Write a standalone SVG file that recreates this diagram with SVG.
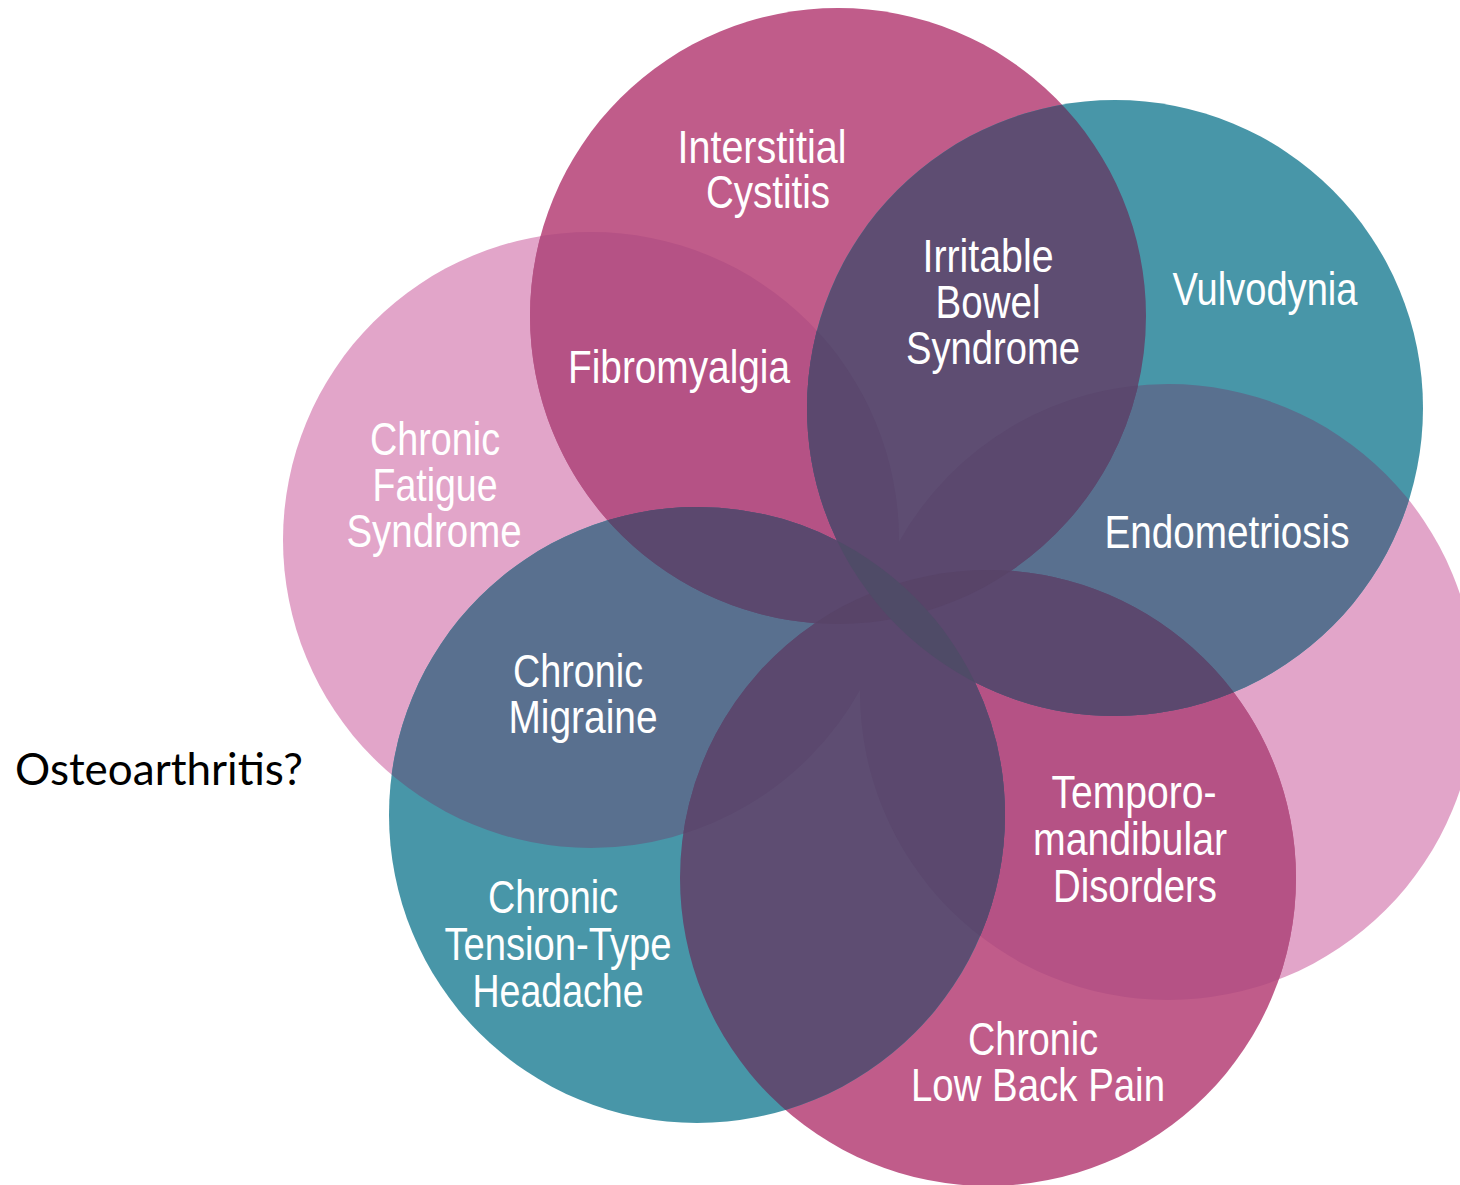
<svg xmlns="http://www.w3.org/2000/svg" width="1460" height="1185" viewBox="0 0 1460 1185">
<defs>
<style>
.lbl{font-family:"Liberation Sans",Arial,sans-serif;font-size:46px;fill:#ffffff;text-anchor:middle}
.q{font-family:Lato,"Open Sans",sans-serif;font-size:44px;fill:#000000}
.mag{fill:#c05c8a}
.teal{fill:#4896a8}
.pink{fill:#e2a5c9}
</style>
<clipPath id="cA"><circle cx="838" cy="316" r="308"/></clipPath>
<clipPath id="cB"><circle cx="1115" cy="408" r="308"/></clipPath>
<clipPath id="cD"><circle cx="697" cy="815" r="308"/></clipPath>
<clipPath id="cE"><circle cx="988" cy="878" r="308"/></clipPath>
<clipPath id="uMag"><circle cx="838" cy="316" r="308"/><circle cx="988" cy="878" r="308"/></clipPath>
<clipPath id="uTeal"><circle cx="1115" cy="408" r="308"/><circle cx="697" cy="815" r="308"/></clipPath>
<clipPath id="uPink"><circle cx="591" cy="540" r="308"/><circle cx="1168" cy="692" r="308"/></clipPath>
</defs>
<rect x="0" y="0" width="1460" height="1185" fill="#ffffff"/>
<g id="circles">
<circle id="c-fatigue" class="pink" cx="591" cy="540" r="308"/>
<circle id="c-endo" class="pink" cx="1168" cy="692" r="308"/>
<circle id="c-cystitis" class="mag" cx="838" cy="316" r="308"/>
<circle id="c-backpain" class="mag" cx="988" cy="878" r="308"/>
<circle id="c-vulvodynia" class="teal" cx="1115" cy="408" r="308"/>
<circle id="c-headache" class="teal" cx="697" cy="815" r="308"/>
</g>
<g id="overlaps">
<g clip-path="url(#uPink)"><g clip-path="url(#uMag)"><rect width="1460" height="1185" fill="#b55285"/></g></g>
<g clip-path="url(#uPink)"><g clip-path="url(#uTeal)"><rect width="1460" height="1185" fill="#59708f"/></g></g>
<g clip-path="url(#uMag)"><g clip-path="url(#uTeal)"><rect width="1460" height="1185" fill="#5e4d72"/></g></g>
<g clip-path="url(#uMag)"><g clip-path="url(#uTeal)"><g clip-path="url(#uPink)"><rect width="1460" height="1185" fill="#5b486e"/></g></g></g>
<g clip-path="url(#cA)"><circle cx="988" cy="878" r="308" fill="#584468"/></g>
<g clip-path="url(#cB)"><circle cx="697" cy="815" r="308" fill="#4f4b67"/></g>
</g>
<g id="n-cystitis"><text class="lbl" x="762" y="163" textLength="169" lengthAdjust="spacingAndGlyphs">Interstitial</text><text class="lbl" x="768" y="208" textLength="124" lengthAdjust="spacingAndGlyphs">Cystitis</text></g>
<g id="n-ibs"><text class="lbl" x="988" y="272" textLength="131" lengthAdjust="spacingAndGlyphs">Irritable</text><text class="lbl" x="988" y="318" textLength="105" lengthAdjust="spacingAndGlyphs">Bowel</text><text class="lbl" x="993" y="364" textLength="174" lengthAdjust="spacingAndGlyphs">Syndrome</text></g>
<g id="n-vulvodynia"><text class="lbl" x="1265" y="305" textLength="185" lengthAdjust="spacingAndGlyphs">Vulvodynia</text></g>
<g id="n-fibromyalgia"><text class="lbl" x="679" y="383" textLength="222" lengthAdjust="spacingAndGlyphs">Fibromyalgia</text></g>
<g id="n-fatigue"><text class="lbl" x="435" y="455" textLength="130" lengthAdjust="spacingAndGlyphs">Chronic</text><text class="lbl" x="435" y="501" textLength="125" lengthAdjust="spacingAndGlyphs">Fatigue</text><text class="lbl" x="434" y="547" textLength="175" lengthAdjust="spacingAndGlyphs">Syndrome</text></g>
<g id="n-endometriosis"><text class="lbl" x="1227" y="548" textLength="245" lengthAdjust="spacingAndGlyphs">Endometriosis</text></g>
<g id="n-migraine"><text class="lbl" x="578" y="687" textLength="130" lengthAdjust="spacingAndGlyphs">Chronic</text><text class="lbl" x="583" y="733" textLength="149" lengthAdjust="spacingAndGlyphs">Migraine</text></g>
<g id="n-tmd"><text class="lbl" x="1134" y="808" textLength="165" lengthAdjust="spacingAndGlyphs">Temporo-</text><text class="lbl" x="1130" y="855" textLength="194" lengthAdjust="spacingAndGlyphs">mandibular</text><text class="lbl" x="1135" y="902" textLength="164" lengthAdjust="spacingAndGlyphs">Disorders</text></g>
<g id="n-headache"><text class="lbl" x="553" y="913" textLength="130" lengthAdjust="spacingAndGlyphs">Chronic</text><text class="lbl" x="558" y="960" textLength="227" lengthAdjust="spacingAndGlyphs">Tension-Type</text><text class="lbl" x="558" y="1007" textLength="171" lengthAdjust="spacingAndGlyphs">Headache</text></g>
<g id="n-backpain"><text class="lbl" x="1033" y="1055" textLength="130" lengthAdjust="spacingAndGlyphs">Chronic</text><text class="lbl" x="1038" y="1101" textLength="254" lengthAdjust="spacingAndGlyphs">Low Back Pain</text></g>
<g id="n-osteoarthritis"><text class="q" x="15" y="785" textLength="288" lengthAdjust="spacingAndGlyphs">Osteoarthritis?</text></g>
</svg>
